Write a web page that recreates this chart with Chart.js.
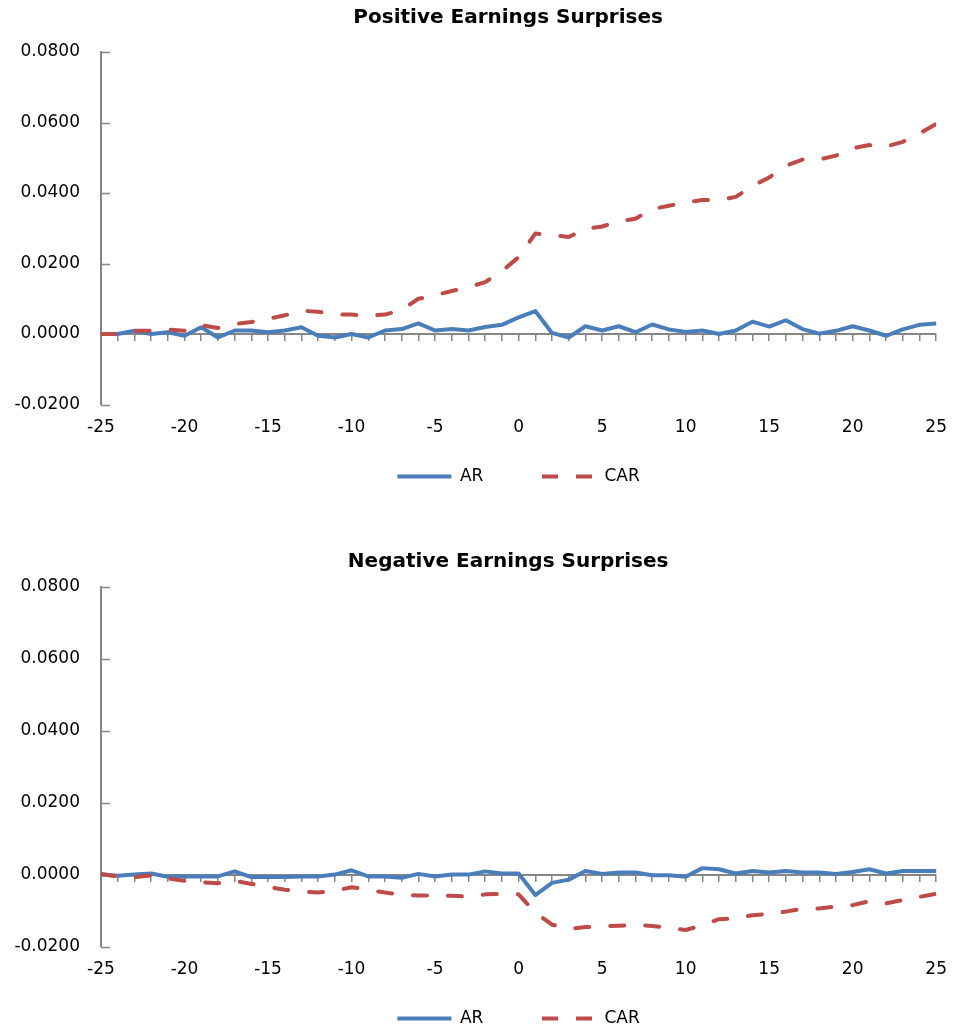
<!DOCTYPE html>
<html>
<head>
<meta charset="utf-8">
<script src="https://cdn.jsdelivr.net/npm/chart.js@4/dist/chart.umd.min.js"></script>
<style>
  html, body { margin: 0; padding: 0; background: #fff; overflow: hidden; }
  #top { position: absolute; left: 0; top: 0; }
  #bottom { position: absolute; left: 0; top: 530px; }
</style>
</head>
<body>
<canvas id="top" width="960" height="495"></canvas>
<canvas id="bottom" width="960" height="507"></canvas>
<script>
// event days relative to the announcement
var days = [-25,-24,-23,-22,-21,-20,-19,-18,-17,-16,-15,-14,-13,-12,-11,-10,-9,-8,-7,-6,-5,-4,-3,-2,-1,
            0,1,2,3,4,5,6,7,8,9,10,11,12,13,14,15,16,17,18,19,20,21,22,23,24,25];

// Positive earnings surprises
var posAR = [0,0,0.0009,0,0.0005,-0.0005,0.0019,-0.001,0.001,0.001,0.0005,0.001,0.0019,-0.0005,-0.001,0,-0.001,0.001,0.0014,0.003,0.001,0.0014,0.001,0.002,0.0026,
             0.0047,0.0065,0.0003,-0.001,0.0022,0.001,0.0022,0.0005,0.0027,0.0013,0.0006,0.001,0,0.001,0.0035,0.0021,0.0039,0.0014,0.0001,0.0009,0.0022,0.001,-0.0005,0.0013,0.0026,0.003];
var posCAR = [0,0,0.0009,0.0009,0.0013,0.0009,0.0025,0.0017,0.0028,0.0034,0.0043,0.0053,0.0066,0.0063,0.0056,0.0055,0.0052,0.0055,0.0068,0.01,0.011,0.0122,0.0133,0.0147,0.0178,
              0.0218,0.0285,0.0281,0.0275,0.0298,0.0305,0.0319,0.0327,0.0354,0.0364,0.0373,0.038,0.038,0.0389,0.042,0.0444,0.0477,0.0495,0.0495,0.0506,0.0527,0.0536,0.0532,0.0545,0.0569,0.0596];

// Negative earnings surprises
var negAR = [0,-0.0003,0,0.0003,-0.0006,-0.0005,-0.0005,-0.0005,0.0009,-0.0007,-0.0007,-0.0007,-0.0005,-0.0005,0,0.0012,-0.0005,-0.0005,-0.0009,0.0002,-0.0005,0,0,0.0009,0.0003,
             0.0003,-0.0057,-0.0023,-0.0014,0.001,0.0002,0.0006,0.0006,-0.0002,-0.0002,-0.0006,0.0018,0.0015,0.0003,0.001,0.0006,0.001,0.0006,0.0006,0.0002,0.0007,0.0015,0.0003,0.001,0.001,0.001];
var negCAR = [0.0002,-0.0005,-0.0007,-0.0002,-0.0011,-0.0017,-0.0021,-0.0024,-0.0017,-0.0026,-0.0034,-0.0042,-0.0047,-0.005,-0.0045,-0.0035,-0.0042,-0.005,-0.0056,-0.0058,-0.0058,-0.0059,-0.0061,-0.0055,-0.0054,
              -0.0055,-0.0106,-0.0139,-0.0151,-0.0146,-0.0144,-0.0142,-0.014,-0.0143,-0.0148,-0.0154,-0.0141,-0.0124,-0.0122,-0.0113,-0.011,-0.0103,-0.0095,-0.0094,-0.0089,-0.0085,-0.0074,-0.008,-0.0071,-0.0062,-0.0053];

var yTicks = { min: -0.02, max: 0.08, step: 0.02 };
var xTicks = { min: -25, max: 25, step: 5 };

var axisGray = '#868686';
var font = 'DejaVu Sans';

function pts(vals) {
    return days.map(function (d, i) { return { x: d, y: vals[i] }; });
}

// small tick marks on the inside of the value axis
var yTickMarks = {
    id: 'yTickMarks',
    beforeDatasetsDraw: function (chart) {
        var y = chart.scales.y, left = chart.chartArea.left, ctx = chart.ctx;
        ctx.save();
        ctx.strokeStyle = axisGray;
        ctx.lineWidth = 1.5;
        y.ticks.forEach(function (t) {
            var py = Math.round(y.getPixelForValue(t.value)) + 0.5;
            ctx.beginPath();
            ctx.moveTo(left, py);
            ctx.lineTo(left + 9, py);
            ctx.stroke();
        });
        ctx.restore();
    }
};

function makeChart(id, title, ar, car, titlePad) {
    var ctx = document.getElementById(id).getContext('2d');
    return new Chart(ctx, {
        type: 'line',
        data: {
            datasets: [
                {
                    label: 'AR',
                    data: pts(ar),
                    borderColor: '#4a7ebb',
                    backgroundColor: '#4a7ebb',
                    borderWidth: 4,
                    pointRadius: 0,
                    fill: false,
                    tension: 0,
                    borderJoinStyle: 'round',
                    borderCapStyle: 'round',
                    order: 1
                },
                {
                    label: 'CAR',
                    data: pts(car),
                    borderColor: '#be4b48',
                    backgroundColor: '#be4b48',
                    borderWidth: 4,
                    borderDash: [14, 21],
                    pointRadius: 0,
                    fill: false,
                    tension: 0,
                    borderJoinStyle: 'round',
                    borderCapStyle: 'round',
                    order: 0
                }
            ]
        },
        options: {
            responsive: false,
            animation: false,
            layout: { padding: { left: 0, right: 17, top: 0, bottom: 0 } },
            scales: {
                x: {
                    type: 'linear',
                    position: 'bottom',
                    min: xTicks.min,
                    max: xTicks.max,
                    grid: { display: false, drawTicks: false },
                    border: { display: false },
                    ticks: {
                        stepSize: xTicks.step,
                        autoSkip: false,
                        maxRotation: 0,
                        padding: 13,
                        color: '#000',
                        font: { family: font, size: 17 }
                    },
                    afterFit: function (s) { s.height = 53.5; }
                },
                x0: {
                    type: 'linear',
                    axis: 'x',
                    position: { y: 0 },
                    min: xTicks.min,
                    max: xTicks.max,
                    ticks: { display: false, stepSize: 1, autoSkip: false },
                    grid: { display: true, drawOnChartArea: false, drawTicks: true, tickLength: 6, color: axisGray, lineWidth: 1.5 },
                    border: { display: true, color: axisGray, width: 2 }
                },
                y: {
                    min: yTicks.min,
                    max: yTicks.max,
                    grid: { display: false, drawTicks: false },
                    border: { display: true, color: axisGray, width: 2 },
                    ticks: {
                        stepSize: yTicks.step,
                        padding: 21,
                        color: '#000',
                        font: { family: font, size: 17 },
                        callback: function (v) { return v.toFixed(4); }
                    },
                    afterFit: function (s) { s.width = 101; }
                }
            },
            plugins: {
                title: {
                    display: true,
                    text: title + '   ',
                    fullSize: false,
                    color: '#000',
                    font: { family: font, size: 20, weight: 'bold' },
                    padding: titlePad
                },
                legend: {
                    position: 'bottom',
                    fullSize: false,
                    labels: {
                        usePointStyle: true,
                        pointStyle: 'line',
                        pointStyleWidth: 54,
                        padding: 10,
                        color: '#000',
                        font: { family: font, size: 17 },
                        sort: function (a, b) { return a.datasetIndex - b.datasetIndex; },
                        generateLabels: function (chart) {
                            var items = Chart.defaults.plugins.legend.labels.generateLabels(chart);
                            items.forEach(function (it) {
                                if (it.text === 'AR') it.text = 'AR         ';
                                if (it.text === 'CAR') it.lineDash = [16, 18];
                            });
                            return items;
                        }
                    }
                },
                tooltip: { enabled: false }
            }
        },
        plugins: [yTickMarks]
    });
}

makeChart('top', 'Positive Earnings Surprises', posAR, posCAR, { top: 6, bottom: 22 });
makeChart('bottom', 'Negative Earnings Surprises', negAR, negCAR, { top: 20, bottom: 13 });
</script>
</body>
</html>
